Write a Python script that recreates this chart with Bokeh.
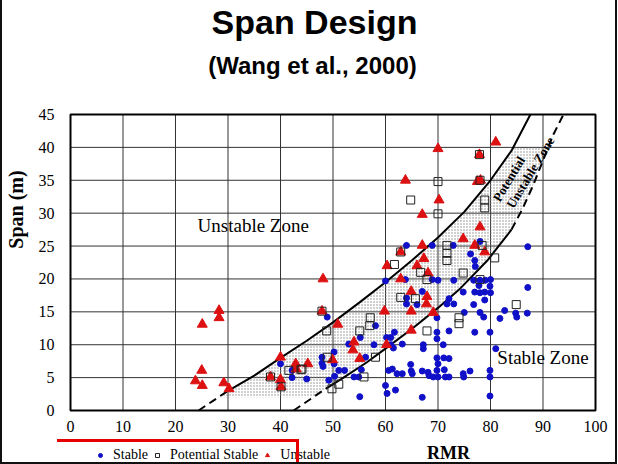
import numpy as np
from bokeh.plotting import figure
from bokeh.models import (Range1d, Label, Legend, LegendItem, FixedTicker, LinearAxis,
                          InlineStyleSheet)
from bokeh.embed import file_html
from bokeh.resources import INLINE

# ---------------- data ----------------
x_ticks = [0, 10, 20, 30, 40, 50, 60, 70, 80, 90, 100]
y_ticks = [0, 5, 10, 15, 20, 25, 30, 35, 40, 45]

stable_rmr = [40.0, 42.2, 42.2, 45.0, 39.9, 47.9, 47.9, 48.9, 48.1, 50.2, 50.2, 50.3, 49.2, 51.1, 52.2,
              53.0, 54.0, 54.9, 55.2, 55.4, 56.2, 55.1, 57.8, 58.1,
              60.0, 63.8, 68.9, 70.0, 73.0, 64.0, 64.0, 66.0, 72.1, 71.7, 73.0, 75.0, 69.8, 61.7, 69.8,
              72.1, 60.2, 61.0, 69.8, 61.0, 63.2, 67.2, 71.0, 61.5, 67.2, 69.8, 71.1, 72.1, 64.8, 70.0,
              60.6, 61.3, 62.2, 63.2, 64.9, 65.1, 67.0, 68.1, 68.3, 69.8, 71.2, 71.4, 70.0, 69.1, 72.1,
              74.9, 60.0, 61.9, 60.3, 67.0, 67.0,
              64.0, 68.9, 72.9, 78.0, 76.2, 77.0, 77.1, 87.1,
              76.8, 78.0, 79.0, 80.0, 77.8, 79.9, 87.1, 74.8, 77.0, 78.0, 78.9, 80.0, 78.9, 76.8, 78.0,
              78.7, 81.8, 82.7, 84.8, 85.0, 87.0, 77.0, 79.9, 81.0, 76.1, 74.8, 79.9, 79.9, 79.9]
stable_span = [7.1, 6.1, 5.0, 4.8, 4.5, 8.1, 7.2, 14.2, 6.7, 8.9, 7.1, 5.2, 4.6, 6.1, 6.1,
               10.1, 5.1, 5.1, 11.1, 6.2, 8.1, 2.1, 10.0, 12.9,
               19.7, 19.9, 19.9, 19.8, 19.8, 17.1, 16.2, 16.1, 17.0, 16.2, 16.2, 14.9, 14.1, 11.9, 11.9,
               12.1, 11.1, 11.1, 10.9, 10.0, 10.1, 10.0, 10.0, 9.5, 9.4, 8.0, 8.0, 7.9, 7.0, 7.1,
               6.1, 6.3, 5.6, 5.6, 6.0, 5.6, 6.0, 5.8, 5.3, 6.1, 6.2, 5.1, 5.1, 5.1, 5.1,
               5.1, 3.8, 3.1, 2.6, 2.0, 18.1,
               25.1, 25.1, 25.1, 25.7, 23.8, 22.8, 21.9, 24.9,
               19.8, 19.8, 19.8, 19.9, 19.0, 18.9, 18.7, 18.0, 18.0, 17.9, 18.0, 17.9, 16.8, 16.1, 14.9,
               14.2, 14.0, 15.2, 14.8, 14.2, 14.8, 11.9, 11.9, 9.4, 6.0, 5.6, 6.1, 5.1, 2.2]

pstable_rmr = [41.6, 43.9, 38.1, 40.1, 47.9,
               61.7, 66.7, 67.9, 74.8, 62.9, 65.7, 57.1, 57.0, 55.1, 48.8, 67.9, 74.0, 74.0, 48.9,
               58.1, 55.9, 51.1, 49.8, 71.7,
               70.0, 64.8, 70.0, 71.7, 71.7, 62.9,
               78.9, 78.9, 78.4, 80.8, 77.9, 78.0, 84.9, 78.0, 44.1]
pstable_span = [6.1, 6.2, 5.1, 3.6, 15.1,
                22.2, 21.0, 19.9, 20.9, 17.2, 17.0, 14.1, 12.9, 12.1, 12.1, 12.1, 14.1, 13.2, 8.1,
                8.1, 5.1, 4.0, 3.3, 22.8,
                34.8, 32.0, 29.9, 25.1, 23.9, 24.1,
                32.0, 30.8, 25.1, 23.2, 38.9, 35.0, 16.1, 19.9, 6.3]

unstable_rmr = [48.1, 28.3, 28.3, 25.1, 47.9, 25.0, 23.8, 25.1, 29.2, 30.2, 40.0, 38.1, 42.9, 43.0,
                45.2, 40.0, 40.1,
                60.3, 66.0, 62.9, 68.1, 64.9, 67.9, 67.8, 59.8, 64.9, 69.1, 50.9, 64.9, 54.0, 53.8,
                60.2, 55.1, 49.9,
                70.0, 63.8, 70.2, 67.0, 67.0, 62.9, 67.3,
                81.0, 77.9, 77.5, 78.1, 78.0, 74.8, 77.0, 78.9]
unstable_span = [20.0, 15.2, 14.1, 13.1, 15.1, 6.1, 4.5, 3.8, 4.2, 3.3, 8.1, 5.1, 7.1, 6.3,
                 7.1, 4.7, 3.6,
                 22.0, 22.0, 20.0, 20.9, 18.1, 17.3, 16.2, 15.1, 15.1, 14.9, 13.1, 12.2, 10.4, 9.2,
                 10.0, 7.9, 7.7,
                 39.8, 35.0, 32.0, 29.8, 25.1, 24.1, 23.1,
                 40.8, 38.9, 34.8, 35.0, 27.9, 26.1, 25.1, 24.1]

# zone boundaries
upper_rmr = [24.4, 30.0, 35.0, 40.0, 45.0, 50.0, 55.0, 60.0, 65.0, 70.0, 75.0, 80.0, 84.0, 87.6]
upper_span = [0.0, 3.0, 5.3, 8.0, 10.6, 13.4, 16.4, 19.5, 22.8, 26.3, 30.2, 35.0, 39.5, 45.0]
lower_rmr = [42.5, 48.6, 52.0, 56.4, 60.0, 65.0, 70.0, 74.3, 79.4, 84.0, 86.0, 88.0, 90.0, 92.0, 93.9]
lower_span = [0.0, 3.3, 5.0, 7.3, 9.4, 12.4, 15.6, 18.6, 22.8, 27.5, 30.5, 34.0, 38.0, 42.0, 45.0]

# ---------------- layout ----------------
# The frame covers the whole canvas; the 0..100 x 0..45 box sits at these pixels.
L, R, T, B = 70, 595, 114, 410
W, H = 618, 464
serif = "Liberation Serif"
sans = "Liberation Sans"
X_MAX, Y_MAX = 100.0, 45.0
kx = X_MAX / (R - L)
ky = Y_MAX / (B - T)

def dx(px):
    return (px - L) * kx
def dy(py):
    return (B - py) * ky

p = figure(width=W, height=H, output_backend="svg", toolbar_location=None, title=None,
           x_range=Range1d(dx(0), dx(W)), y_range=Range1d(dy(H), dy(0)),
           min_border_left=0, min_border_right=0, min_border_top=0, min_border_bottom=0)
p.background_fill_color = "white"
p.border_fill_color = "white"
p.outline_line_color = None
p.xgrid.visible = False
p.ygrid.visible = False

# axes drawn at the edges of the data box
for ax, ticks in ((p.xaxis[0], x_ticks), (p.yaxis[0], y_ticks)):
    ax.ticker = FixedTicker(ticks=ticks)
    ax.fixed_location = 0
    ax.axis_line_color = None
    ax.major_tick_line_color = None
    ax.minor_tick_line_color = None
    ax.major_tick_out = 0
    ax.major_tick_in = 0
    ax.major_label_text_font = serif
    ax.major_label_text_font_size = "16px"
    ax.major_label_text_color = "black"
p.xaxis.major_label_standoff = 10
p.yaxis.major_label_standoff = 16

# axis titles on tick-less axes, centred where the reference shows them
ylab = LinearAxis(bounds=(25.5, 35.5), ticker=FixedTicker(ticks=[]), axis_label="Span (m)",
                  fixed_location=0, axis_line_color=None, major_tick_line_color=None,
                  minor_tick_line_color=None, axis_label_standoff=44,
                  axis_label_text_font=serif, axis_label_text_font_style="bold",
                  axis_label_text_font_size="20px", axis_label_text_color="black")
p.add_layout(ylab, "left")
xlab = LinearAxis(bounds=(67, 77), ticker=FixedTicker(ticks=[]), axis_label="RMR",
                  fixed_location=0, axis_line_color=None, major_tick_line_color=None,
                  minor_tick_line_color=None, axis_label_standoff=32,
                  axis_label_text_font=serif, axis_label_text_font_style="bold",
                  axis_label_text_font_size="18px", axis_label_text_color="black")
p.add_layout(xlab, "below")

# grid lines inside the data box
gx = x_ticks[1:-1]
gy = y_ticks[1:-1]
p.segment(x0=gx, y0=[0] * len(gx), x1=gx, y1=[Y_MAX] * len(gx), line_color="#333333", line_width=1)
p.segment(x0=[0] * len(gy), y0=gy, x1=[X_MAX] * len(gy), y1=gy, line_color="#333333", line_width=1)

# stippled potential-unstable band
yb = 2.0
yt = 40.0
up_x = np.array(upper_rmr); up_y = np.array(upper_span)
lo_x = np.array(lower_rmr); lo_y = np.array(lower_span)
m1 = (up_y > yb) & (up_y < yt)
m2 = (lo_y > yb) & (lo_y < yt)
band_x = ([np.interp(yb, up_y, up_x)] + list(up_x[m1]) + [np.interp(yt, up_y, up_x),
          np.interp(yt, lo_y, lo_x)] + list(lo_x[m2][::-1]) + [np.interp(yb, lo_y, lo_x)])
band_y = [yb] + list(up_y[m1]) + [yt, yt] + list(lo_y[m2][::-1]) + [yb]
p.patch(band_x, band_y, fill_alpha=0, line_alpha=0, hatch_pattern=".",
        hatch_color="#8a8a8a", hatch_scale=3, hatch_weight=1)

# zone boundaries (they stop at the box edge)
dash = "8 5"
p.line(upper_rmr[0:2], upper_span[0:2], line_color="black", line_width=2, line_dash=dash)
p.line(upper_rmr[1:], upper_span[1:], line_color="black", line_width=2)
p.line(lower_rmr[0:2], lower_span[0:2], line_color="black", line_width=2, line_dash=dash)
p.line(lower_rmr[1:10], lower_span[1:10], line_color="black", line_width=2)
p.line(lower_rmr[9:], lower_span[9:], line_color="black", line_width=2, line_dash=dash)

# data box outline
p.quad(left=[0], right=[X_MAX], bottom=[0], top=[Y_MAX], fill_alpha=0,
       line_color="black", line_width=2)

# points
r_st = p.scatter(stable_rmr, stable_span, marker="circle", size=6,
                 fill_color="#1010c8", line_color="#1010c8")
r_un = p.scatter(unstable_rmr, unstable_span, marker="triangle", size=10,
                 fill_color="#dd1111", line_color="#dd1111")
r_ps = p.scatter(pstable_rmr, pstable_span, marker="square", size=8,
                 fill_color=None, line_color="#222222", line_width=1)

# legend row at the bottom of the slide
legend = Legend(items=[LegendItem(label="Stable", renderers=[r_st]),
                       LegendItem(label="Potential Stable", renderers=[r_ps]),
                       LegendItem(label="Unstable", renderers=[r_un])],
                location=(95, 1), orientation="horizontal",
                background_fill_alpha=0, border_line_alpha=0, padding=0, margin=0,
                spacing=4, glyph_width=10, glyph_height=14, label_height=16,
                label_standoff=8, label_text_font=serif, label_text_font_size="14px",
                label_text_color="black")
p.add_layout(legend)

# titles
p.add_layout(Label(x=dx(314), y=dy(40), text="Span Design", text_font=sans,
                   text_font_style="bold", text_font_size="34px", text_align="center",
                   text_color="black"))
p.add_layout(Label(x=dx(312), y=dy(78), text="(Wang et al., 2000)", text_font=sans,
                   text_font_style="bold", text_font_size="24px", text_align="center",
                   text_color="black"))

# zone names inside the plot
p.add_layout(Label(x=24.2, y=26.6, text="Unstable Zone", text_font=serif, text_font_size="19px",
                   text_color="black"))
p.add_layout(Label(x=81.3, y=6.4, text="Stable Zone", text_font=serif, text_font_size="19px",
                   text_color="black"))
ang = np.deg2rad(59)
p.add_layout(Label(x=83.5, y=35.2, text="Potential", text_font=serif, text_font_style="bold",
                   text_font_size="13px", angle=ang, text_align="center", text_baseline="middle",
                   text_color="black"))
p.add_layout(Label(x=87.6, y=36.2, text="Unstable Zone", text_font=serif, text_font_style="bold",
                   text_font_size="13px", angle=ang, text_align="center", text_baseline="middle",
                   text_color="black"))

# slide frame and red marker line, drawn as page decoration
p.stylesheets = [InlineStyleSheet(css="""
:host { position: relative; }
:host::after { content: ""; position: absolute; left: 0px; top: 0px; width: 617px; height: 464px;
  box-sizing: border-box; border-left: 2px solid #111; border-right: 2px solid #111;
  border-bottom: 2px solid #111; pointer-events: none; z-index: 5; }
:host::before { content: ""; position: absolute; left: 57px; top: 439px; width: 242px; height: 25px;
  box-sizing: border-box; border-top: 3px solid #e60000; border-right: 3px solid #e60000;
  pointer-events: none; z-index: 5; }
""")]

open("out.html", "w").write(file_html(p, INLINE))
